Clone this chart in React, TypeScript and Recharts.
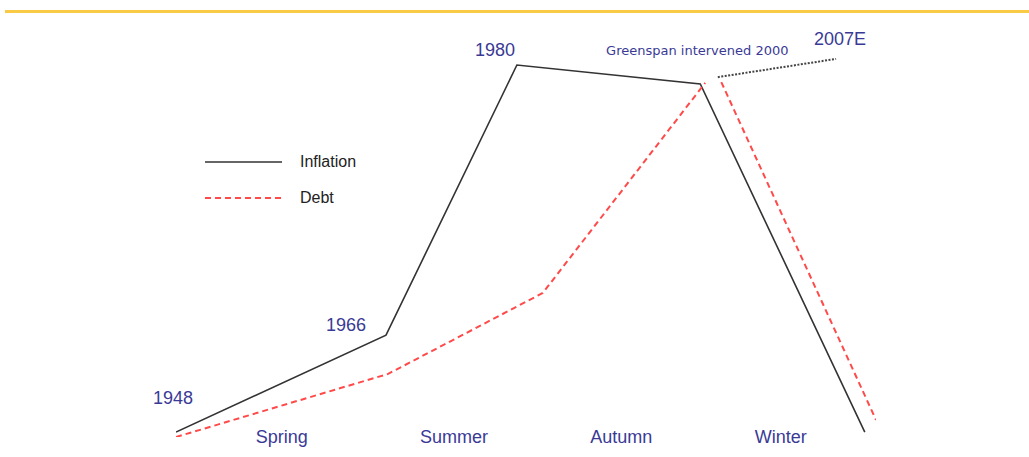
import React from "react";
import { LineChart, Line, XAxis, YAxis, Legend, LabelList } from "recharts";

// cycle progress (0-100) vs. relative level (0-100)
const inflationX = [0, 30, 48.7, 74.9, 98.4];
const inflationY = [1.3, 26.8, 97.9, 92.9, 1.3];
const inflationLabels = ["1948", "1966", "1980", "Greenspan intervened 2000", ""];

// the debt line breaks at the turning point
const debtX = [0, 30.3, 52.4, 75.6, 76.7, 77.9, 100];
const debtY = [0, 16.6, 37.9, 93.2, null, 93.4, 4.5];

const outlookX = [77.4, 94.3];
const outlookY = [94.7, 99.5];
const outlookLabels = ["", "2007E"];

const seasons = ["Spring", "Summer", "Autumn", "Winter"];
const seasonPos = [15.1, 39.7, 63.6, 86.4];

const legendOrder = ["Inflation", "Debt"];

const inflation = inflationX.map((x, i) => ({ x, y: inflationY[i], label: inflationLabels[i] }));
const debt = debtX.map((x, i) => ({ x, y: debtY[i] }));
const outlook = outlookX.map((x, i) => ({ x, y: outlookY[i], label: outlookLabels[i] }));

const BLUE = "#3a3a96";

// label placement relative to the point it belongs to
const labelOffsets: Record<string, { dx: number; dy: number; size: number; font: string }> = {
  "1948": { dx: -3, dy: -28, size: 18, font: "Liberation Sans, Arial, sans-serif" },
  "1966": { dx: -40, dy: -4, size: 18, font: "Liberation Sans, Arial, sans-serif" },
  "1980": { dx: -22, dy: -9, size: 18, font: "Liberation Sans, Arial, sans-serif" },
  "Greenspan intervened 2000": { dx: -3, dy: -29, size: 13, font: "DejaVu Sans, sans-serif" },
  "2007E": { dx: 4, dy: -14, size: 18, font: "Liberation Sans, Arial, sans-serif" },
};

function PointLabel(props: any) {
  const { x, y, value } = props;
  if (!value) return null;
  const o = labelOffsets[value];
  return (
    <text
      x={x + o.dx}
      y={y + o.dy}
      textAnchor="middle"
      fill={BLUE}
      fontSize={o.size}
      fontFamily={o.font}
    >
      {value}
    </text>
  );
}

function SeasonTick(props: any) {
  const { x, y, index } = props;
  return (
    <text
      x={x}
      y={y}
      dy={6}
      textAnchor="middle"
      fill={BLUE}
      fontSize={18}
      fontFamily="Liberation Sans, Arial, sans-serif"
    >
      {seasons[index]}
    </text>
  );
}

function LegendBox(props: any) {
  const items = (props.payload || [])
    .filter((p: any) => p.type !== "none")
    .sort((a: any, b: any) => legendOrder.indexOf(a.value) - legendOrder.indexOf(b.value));
  return (
    <div style={{ display: "flex", flexDirection: "column", gap: 16 }}>
      {items.map((p: any) => (
        <div key={p.value} style={{ display: "flex", alignItems: "center", height: 20 }}>
          <svg width={77} height={4}>
            <line
              x1={0}
              y1={2}
              x2={77}
              y2={2}
              stroke={p.color}
              strokeWidth={p.payload?.strokeWidth ?? 1.5}
              strokeDasharray={p.payload?.strokeDasharray}
            />
          </svg>
          <span
            style={{
              marginLeft: 18,
              fontSize: 16,
              color: "#222",
              fontFamily: "Liberation Sans, Arial, sans-serif",
            }}
          >
            {p.value}
          </span>
        </div>
      ))}
    </div>
  );
}

export default function App() {
  return (
    <div style={{ position: "absolute", left: 0, top: 0, width: 1029, height: 457, background: "#fff" }}>
      <div
        style={{
          position: "absolute",
          left: 5,
          top: 10,
          width: 1024,
          height: 3,
          background: "#f8ca45",
        }}
      />
      <LineChart
        width={1029}
        height={457}
        margin={{ top: 57, right: 153, bottom: 0, left: 176 }}
      >
        <XAxis
          type="number"
          dataKey="x"
          domain={[0, 100]}
          ticks={seasonPos}
          tick={<SeasonTick />}
          axisLine={false}
          tickLine={false}
          tickSize={0}
          tickMargin={0}
          height={20}
          allowDataOverflow
        />
        <YAxis type="number" dataKey="y" domain={[0, 100]} hide allowDataOverflow />
        <Legend
          layout="horizontal"
          verticalAlign="middle"
          align="center"
          content={<LegendBox />}
          wrapperStyle={{ position: "absolute", left: 205, top: 152, width: 200 }}
        />
        <Line
          data={inflation}
          dataKey="y"
          name="Inflation"
          type="linear"
          stroke="#333"
          strokeWidth={1.6}
          dot={false}
          isAnimationActive={false}
        >
          <LabelList dataKey="label" content={<PointLabel />} />
        </Line>
        <Line
          data={debt}
          dataKey="y"
          name="Debt"
          type="linear"
          stroke="#ff4a4a"
          strokeWidth={2}
          strokeDasharray="6 4"
          dot={false}
          connectNulls={false}
          isAnimationActive={false}
        />
        <Line
          data={outlook}
          dataKey="y"
          name="Outlook"
          type="linear"
          stroke="#444"
          strokeWidth={2}
          strokeDasharray="2 1.5"
          dot={false}
          legendType="none"
          isAnimationActive={false}
        >
          <LabelList dataKey="label" content={<PointLabel />} />
        </Line>
      </LineChart>
    </div>
  );
}
